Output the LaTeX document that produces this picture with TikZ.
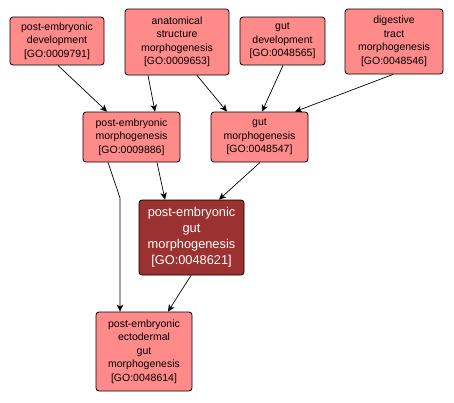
\documentclass[tikz,border=0pt]{standalone}
\usepackage{fontspec}
\setmainfont{Liberation Sans}
\usetikzlibrary{arrows.meta,calc}
\definecolor{lightgo}{HTML}{FF8A8A}
\definecolor{darkgo}{HTML}{9B3131}
\tikzset{
  gobox/.style={draw=black, line width=0.8pt, rounded corners=3pt, fill=lightgo,
    align=center, inner sep=0pt, font=\fontsize{10.5}{13.5}\selectfont},
  godark/.style={gobox, fill=darkgo, text=white, font=\fontsize{12.8}{16}\selectfont},
  goedge/.style={draw=black, line width=0.7pt, -{Stealth[length=7pt,width=6.5pt,inset=2pt]}},
}
\begin{document}
\begin{tikzpicture}[x=1pt,y=1pt]
\useasboundingbox (0,0) rectangle (454,-402);
\node[gobox, minimum width=94pt, minimum height=48pt] (n1) at (57,-41) {post-embryonic\\development\\{[GO:0009791]}};
\node[gobox, minimum width=104pt, minimum height=66pt] (n2) at (177,-42) {anatomical\\structure\\morphogenesis\\{[GO:0009653]}};
\node[gobox, minimum width=85pt, minimum height=48pt] (n3) at (282.5,-41) {gut\\development\\{[GO:0048565]}};
\node[gobox, minimum width=98pt, minimum height=65pt] (n4) at (394,-41.5) {digestive\\tract\\morphogenesis\\{[GO:0048546]}};
\node[gobox, minimum width=97pt, minimum height=50pt] (n5) at (131.5,-137) {post-embryonic\\morphogenesis\\{[GO:0009886]}};
\node[gobox, minimum width=97pt, minimum height=50pt] (n6) at (259.5,-137) {gut\\morphogenesis\\{[GO:0048547]}};
\node[godark, minimum width=105pt, minimum height=75pt] (n7) at (191.5,-237.5) {post-embryonic\\gut\\morphogenesis\\{[GO:0048621]}};
\node[gobox, minimum width=96pt, minimum height=79pt] (n8) at (144,-351.5) {post-embryonic\\ectodermal\\gut\\morphogenesis\\{[GO:0048614]}};
\coordinate (bend) at (120,-198);
\draw[goedge] ($(n1.south)+(1,0)$) -- ($(n5.north)+(-24.5,0)$);
\draw[goedge] ($(n2.south)+(-29,0)$) -- ($(n5.north)+(23.5,0)$);
\draw[goedge] ($(n2.south)+(20,0)$) -- ($(n6.north)+(-32.5,0)$);
\draw[goedge] ($(n3.south)+(0.5,0)$) -- ($(n6.north)+(2.5,0)$);
\draw[goedge] ($(n4.south)+(-1,0)$) -- ($(n6.north)+(35.5,0)$);
\draw[goedge] ($(n5.south)+(25.5,0)$) -- ($(n7.north)+(-26.5,0)$);
\draw[goedge] ($(n6.south)+(0.5,0)$) -- ($(n7.north)+(27.5,0)$);
\draw[goedge] ($(n5.south)+(-23.5,0)$) -- (bend) -- ($(n8.north)+(-24,0)$);
\draw[goedge] ($(n7.south)+(-0.5,0)$) -- ($(n8.north)+(24,0)$);
\end{tikzpicture}
\end{document}
